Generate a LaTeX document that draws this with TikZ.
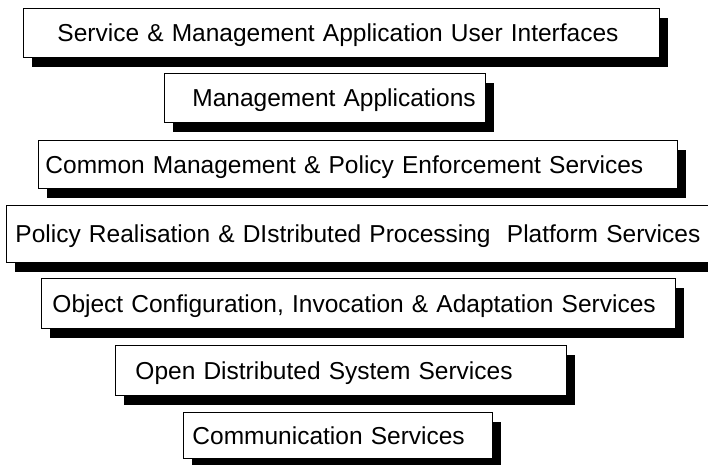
\documentclass[tikz,border=0pt]{standalone}
\usepackage{fontspec}
\setmainfont{Liberation Sans}
\usetikzlibrary{shadows}
\begin{document}
\begin{tikzpicture}[x=1pt,y=1pt]
  \tikzset{
    layer/.style={draw=black, line width=0.9pt, fill=white,
      anchor=north west, align=left, inner ysep=0pt, inner xsep=0pt,
      text height=17.5pt, text depth=0pt,
      font=\fontsize{24.5}{29}\selectfont,
      drop shadow={shadow xshift=8.5pt, shadow yshift=-9.5pt,
        opacity=1, fill=black}},
    % box of width #1, height #2, text starting #3 from the left edge
    boxdim/.style n args={3}{minimum height=#2pt, text width=#1pt,
      execute at begin node={\hspace*{#3pt}}}
  }
  \useasboundingbox (0,0) rectangle (708,-464);
  \clip (0,0) rectangle (708,-464);

  \node[layer, boxdim={636}{49}{34}] (ui)  at (23,-8)
    {Service \& Management Application User Interfaces};
  \node[layer, boxdim={321}{49}{28}] (apps) at (164,-73)
    {Management Applications};
  \node[layer, boxdim={639}{48}{7}] (common) at (38,-140)
    {Common Management \& Policy Enforcement Services};
  \node[layer, boxdim={714}{57}{9}] (policy) at (6,-205)
    {Policy Realisation \& DIstributed Processing\ \ Platform Services};
  \node[layer, boxdim={634}{50}{11}] (object) at (41,-278)
    {Object Configuration, Invocation \& Adaptation Services};
  \node[layer, boxdim={451}{50}{20}] (ods) at (115,-345)
    {Open Distributed System Services};
  \node[layer, boxdim={309}{46}{9}] (comm) at (183,-412)
    {Communication Services};
\end{tikzpicture}
\end{document}
